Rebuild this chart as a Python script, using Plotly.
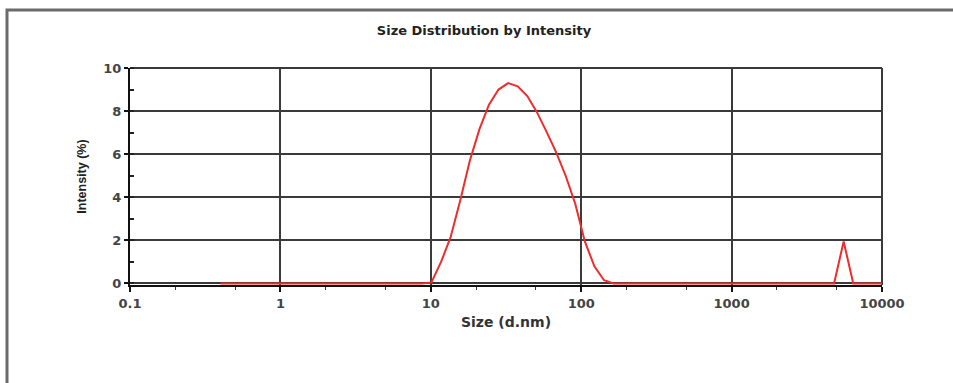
import plotly.graph_objects as go

# Size bins (d.nm) of the intensity distribution
size_nm = [
    0.4, 0.4632, 0.5365, 0.6213, 0.7195, 0.8332, 0.9649, 1.117, 1.294, 1.499,
    1.736, 2.01, 2.328, 2.696, 3.122, 3.615, 4.187, 4.849, 5.615, 6.503,
    7.531, 8.721, 10.1, 11.7, 13.54, 15.69, 18.17, 21.04, 24.36, 28.21,
    32.67, 37.84, 43.82, 50.75, 58.77, 68.06, 78.82, 91.28, 105.7, 122.4,
    141.8, 164.2, 190.1, 220.2, 255.0, 295.3, 342.0, 396.1, 458.7, 531.2,
    615.1, 712.4, 825.0, 955.4, 1106, 1281, 1484, 1718, 1990, 2305,
    2669, 3091, 3580, 4145, 4801, 5560, 6439, 7456, 8635, 10000,
]

# Intensity (%) per bin
intensity_pct = [
    0, 0, 0, 0, 0, 0, 0, 0, 0, 0,
    0, 0, 0, 0, 0, 0, 0, 0, 0, 0,
    0, 0, 0.05, 1.0, 2.15, 3.85, 5.7, 7.15, 8.3, 9.0,
    9.3, 9.15, 8.7, 7.95, 7.05, 6.1, 5.0, 3.7, 1.95, 0.8,
    0.15, 0, 0, 0, 0, 0, 0, 0, 0, 0,
    0, 0, 0, 0, 0, 0, 0, 0, 0, 0,
    0, 0, 0, 0, 0, 1.95, 0, 0, 0, 0,
]

x_tickvals = [0.1, 1, 10, 100, 1000, 10000]
x_ticktext = ["0.1", "1", "10", "100", "1000", "10000"]
y_tickvals = [0, 2, 4, 6, 8, 10]

WIDE = "DejaVu Sans, Verdana, sans-serif"
NARROW = "Liberation Sans, Arial, sans-serif"
GRID = "#3a3a3a"

# plot area: x 130..882, y 68..285
L, R, T, B = 130, 71, 68, 98
PW, PH = 953 - L - R, 383 - T - B

fig = go.Figure()
fig.add_trace(go.Scatter(
    x=size_nm, y=intensity_pct, mode="lines",
    line=dict(color="#ec2d2d", width=2),
    hoverinfo="x+y", showlegend=False,
))

fig.update_layout(
    width=953, height=383,
    margin=dict(l=L, r=R, t=T, b=B),
    paper_bgcolor="white", plot_bgcolor="white",
    font=dict(family=WIDE, size=11, color="#222"),
    title=dict(text="<b>Size Distribution by Intensity</b>", x=484 / 953, xanchor="center",
               y=1 - 30 / 383, yanchor="middle",
               font=dict(family=WIDE, size=13, color="#222")),
    xaxis=dict(
        type="log", range=[-1, 4],
        tickvals=x_tickvals, ticktext=[f"<b>{t}</b>" for t in x_ticktext],
        showgrid=True, gridcolor=GRID, gridwidth=2,
        showline=True, linecolor="#111", linewidth=2,
        ticks="outside", ticklen=5, tickcolor="#111", tickwidth=2,
        minor=dict(ticks="outside", ticklen=3, tickcolor="#333", tickwidth=1,
                   showgrid=False),
        zeroline=False, layer="below traces",
        title=dict(text="<b>Size (d.nm)</b>", font=dict(family=WIDE, size=14, color="#333"),
                   standoff=8),
        automargin=False,
        tickfont=dict(family=WIDE, size=13, color="#444"),
    ),
    yaxis=dict(
        range=[-0.07, 10], tickvals=y_tickvals,
        ticktext=[f"<b>{v}</b>" for v in y_tickvals],
        showgrid=True, gridcolor=GRID, gridwidth=2,
        showline=True, linecolor="#111", linewidth=2,
        ticks="outside", ticklen=4, tickcolor="#111", tickwidth=2,
        minor=dict(dtick=1, ticks="inside", ticklen=4, tickcolor="#222", tickwidth=2,
                   showgrid=False),
        zeroline=False, layer="below traces",
        title=dict(text="<b>Intensity (%)</b>", font=dict(family=NARROW, size=12.5, color="#222"),
                   standoff=14),
        automargin=False,
        tickfont=dict(family=WIDE, size=13, color="#444"),
    ),
    shapes=[
        # outer report frame
        dict(type="rect", xref="paper", yref="paper",
             x0=(7 - L) / PW, x1=1.3, y0=-0.6, y1=(T + PH - 10) / PH,
             line=dict(color="#6a6a6a", width=3), layer="below"),
        # plot border on right and top
        dict(type="line", xref="paper", yref="paper", x0=1, x1=1, y0=0, y1=1,
             line=dict(color=GRID, width=2), layer="below"),
        dict(type="line", xref="paper", yref="paper", x0=0, x1=1, y0=1, y1=1,
             line=dict(color=GRID, width=2), layer="below"),
    ],
)

fig.write_html("out.html")
